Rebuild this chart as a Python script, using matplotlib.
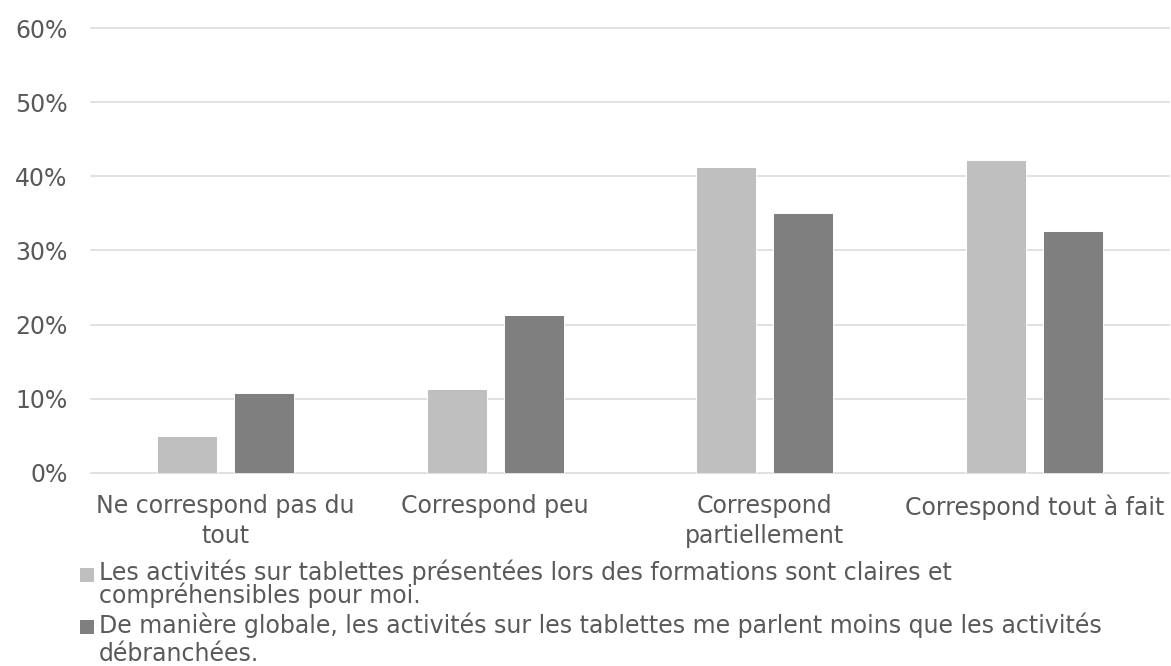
import matplotlib
matplotlib.use("Agg")
import matplotlib.pyplot as plt
from matplotlib.patches import Rectangle
import numpy as np

# data
categories = ["Ne correspond pas du\ntout", "Correspond peu",
              "Correspond\npartiellement", "Correspond tout à fait"]
claires = [0.050, 0.113, 0.413, 0.422]
moins_que_debranchees = [0.108, 0.213, 0.350, 0.327]
legend_labels = [
    "Les activités sur tablettes présentées lors des formations sont claires et\n"
    "compréhensibles pour moi.",
    "De manière globale, les activités sur les tablettes me parlent moins que les activités\n"
    "débranchées.",
]
yticks = [0, 0.1, 0.2, 0.3, 0.4, 0.5, 0.6]

txt_color = "#595959"
colors = ["#BFBFBF", "#7F7F7F"]
fs = 17

plt.rcParams['font.family'] = ['DejaVu Sans']

fig = plt.figure(figsize=(11.71, 6.66), dpi=100)
W, H = 1171, 666
ax = fig.add_axes([91 / W, 1 - 472.7 / H, (1169 - 91) / W, (472.7 - 28.3) / H])

x = np.arange(len(categories))
bw = 0.2225
off = 0.142
ax.bar(x - off, claires, bw, color=colors[0], edgecolor="white", linewidth=0.7, zorder=3)
ax.bar(x + off, moins_que_debranchees, bw, color=colors[1], edgecolor="white", linewidth=0.7, zorder=3)

ax.set_xlim(-0.5, len(categories) - 0.5)
ax.set_ylim(0, 0.6)
ax.set_yticks(yticks)
ax.set_yticklabels([f"{int(round(v * 100))}%" for v in yticks])
ax.set_xticks(x)
ax.set_xticklabels(categories)

# grid lines in light grey, no frame
ax.yaxis.grid(True, color="#D9D9D9", linewidth=1.1, zorder=0)
ax.set_axisbelow(True)
for gl in ax.get_ygridlines():
    gl.set_clip_on(False)
for s in ax.spines.values():
    s.set_visible(False)
ax.tick_params(axis="both", length=0, labelsize=fs, labelcolor=txt_color)
ax.tick_params(axis="y", pad=16.8)
ax.tick_params(axis="x", pad=15.5)
for t in ax.get_xticklabels():
    t.set_linespacing(1.3)

# legend drawn by hand so the square sits on the first line
# (baseline alignment of a two-line text uses its last line)
first_baselines = [582, 634]
last_baselines = [603, 661]
spacings = [0.88, 1.2]
for i, label in enumerate(legend_labels):
    fig.text(99 / W, 1 - last_baselines[i] / H, label, fontsize=fs, color=txt_color,
             ha="left", va="baseline", linespacing=spacings[i])
    yc = first_baselines[i] - 7.5
    fig.patches.append(Rectangle((80 / W, 1 - (yc + 7) / H), 14 / W, 14 / H,
                                 transform=fig.transFigure, facecolor=colors[i],
                                 edgecolor="none"))

plt.savefig("out.png", dpi=100)
